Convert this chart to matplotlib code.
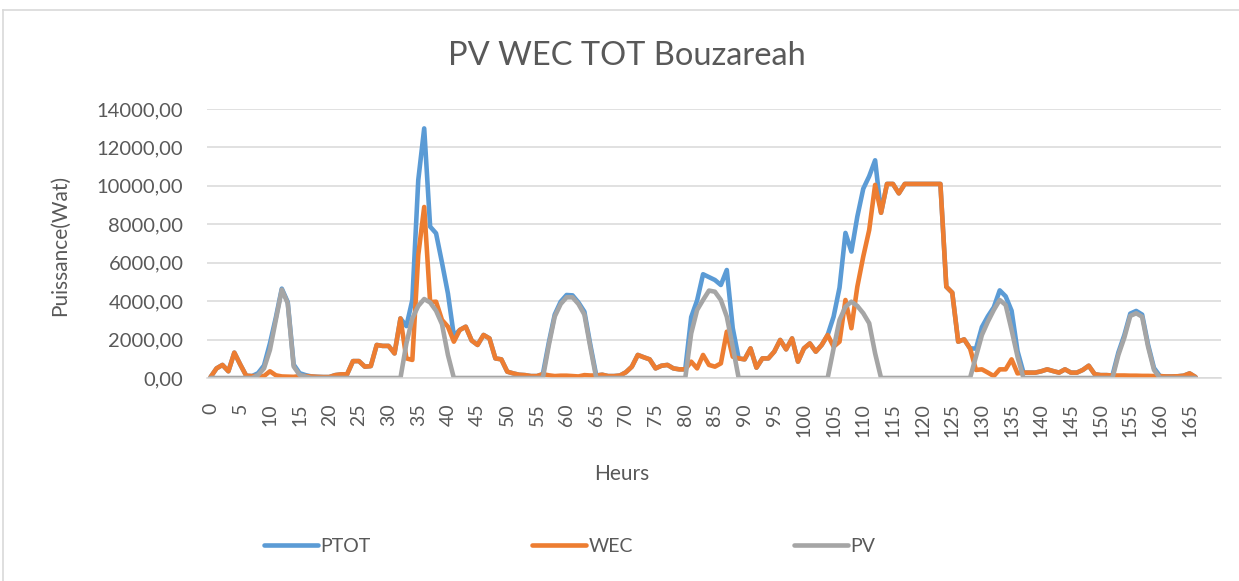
import numpy as np
import matplotlib
matplotlib.use("Agg")
import matplotlib.pyplot as plt
from matplotlib.lines import Line2D

plt.rcParams['font.family'] = ['Lato', 'DejaVu Sans']

# values (hourly, Watt)
wec = [50, 500, 680, 350, 1320, 700, 120, 100, 100, 100,
       350, 140, 80, 70, 60, 100, 100, 80, 60, 50,
       50, 150, 190, 190, 880, 880, 590, 620, 1720, 1670,
       1670, 1280, 3100, 1020, 940, 6400, 8900, 3950, 3970, 3020,
       2670, 1890, 2500, 2670, 1950, 1720, 2240, 2060, 1020, 970,
       330, 240, 170, 150, 100, 100, 200, 140, 100, 120,
       120, 100, 80, 150, 130, 130, 170, 100, 100, 130,
       300, 590, 1200, 1080, 970, 500, 640, 680, 500, 450,
       450, 850, 500, 1200, 680, 590, 760, 2410, 1110, 1020,
       970, 1540, 540, 1020, 1020, 1370, 1980, 1490, 2060, 850,
       1540, 1800, 1370, 1720, 2240, 1630, 1890, 4060, 2590, 4750,
       6320, 7700, 10050, 8600, 10100, 10100, 9610, 10100, 10100, 10100,
       10100, 10100, 10100, 10100, 4750, 4440, 1890, 2010, 1540, 420,
       450, 280, 100, 450, 450, 970, 240, 280, 280, 280,
       350, 450, 360, 280, 450, 280, 280, 420, 640, 200,
       150, 150, 130, 130, 130, 120, 120, 110, 110, 100,
       100, 80, 80, 90, 120, 240, 50]

pv = [0, 0, 0, 0, 0, 0, 0, 0, 150, 500,
      1460, 3020, 4600, 3890, 600, 160, 70, 0, 0, 0,
      0, 0, 0, 0, 0, 0, 0, 0, 0, 0,
      0, 0, 0, 1800, 3100, 3750, 4110, 3930, 3500, 2800,
      1200, 0, 0, 0, 0, 0, 0, 0, 0, 0,
      0, 0, 0, 0, 0, 0, 0, 1700, 3200, 3850,
      4200, 4200, 3850, 3300, 1600, 0, 0, 0, 0, 0,
      0, 0, 0, 0, 0, 0, 0, 0, 0, 0,
      0, 2320, 3540, 4060, 4550, 4490, 4060, 3190, 1630, 0,
      0, 0, 0, 0, 0, 0, 0, 0, 0, 0,
      0, 0, 0, 0, 0, 1540, 3020, 3710, 3970, 3750,
      3370, 2850, 1280, 0, 0, 0, 0, 0, 0, 0,
      0, 0, 0, 0, 0, 0, 0, 0, 0, 1110,
      2240, 2930, 3540, 4060, 3800, 2500, 1110, 0, 0, 0,
      0, 0, 0, 0, 0, 0, 0, 0, 0, 0,
      0, 0, 0, 1200, 2100, 3230, 3370, 3190, 1630, 420,
      0, 0, 0, 0, 0, 0, 0]

ptot = [50, 500, 680, 350, 1320, 700, 120, 100, 250, 650,
        1800, 3150, 4650, 3950, 700, 250, 150, 80, 60, 50,
        50, 150, 190, 190, 880, 880, 590, 620, 1720, 1670,
        1670, 1280, 3100, 2700, 4060, 10300, 12990, 7880, 7530, 6000,
        4400, 2200, 2500, 2670, 1950, 1720, 2240, 2060, 1020, 970,
        330, 240, 170, 150, 100, 100, 200, 1840, 3300, 3970,
        4320, 4300, 3930, 3450, 1730, 130, 170, 100, 100, 130,
        300, 590, 1200, 1080, 970, 500, 640, 680, 500, 450,
        450, 3170, 4040, 5400, 5250, 5100, 4840, 5620, 2600, 1020,
        970, 1540, 540, 1020, 1020, 1370, 1980, 1490, 2060, 850,
        1540, 1800, 1370, 1720, 2240, 3190, 4700, 7550, 6580, 8400,
        9850, 10500, 11330, 8600, 10100, 10100, 9610, 10100, 10100, 10100,
        10100, 10100, 10100, 10100, 4750, 4440, 1890, 2010, 1540, 1530,
        2650, 3210, 3680, 4560, 4250, 3500, 1400, 280, 280, 280,
        350, 450, 360, 280, 450, 280, 280, 420, 640, 200,
        150, 150, 130, 1330, 2230, 3350, 3490, 3300, 1740, 520,
        100, 80, 80, 90, 120, 240, 50]

hours = np.arange(len(wec))
xticks = list(range(0, 166, 5))
yticks = [0, 2000, 4000, 6000, 8000, 10000, 12000, 14000]

txt = '#595959'
grid = '#D9D9D9'
c_tot, c_wec, c_pv = '#5B9BD5', '#ED7D31', '#A5A5A5'

fig = plt.figure(figsize=(12.39, 5.81), dpi=100)
ax = fig.add_axes([0.1671, 0.3494, 0.8184, 0.463])

lw = 3.3
kw = dict(lw=lw, solid_joinstyle='round', solid_capstyle='round')
l1, = ax.plot(hours, ptot, color=c_tot, label='PTOT', **kw)
l2, = ax.plot(hours, wec, color=c_wec, label='WEC', **kw)
l3, = ax.plot(hours, pv, color=c_pv, label='PV', **kw)

ax.set_xlim(-0.6, 170.3)
ax.set_ylim(0, 14000)
ax.set_yticks(yticks)
ax.set_yticklabels([f"{v},00" for v in yticks])
ax.set_xticks(xticks)
ax.set_xticklabels([str(v) for v in xticks], rotation=90, va='top', ha='center')
ax.tick_params(axis='y', length=0, pad=17, labelsize=14.5, labelcolor=txt)
ax.tick_params(axis='x', length=0, pad=18, labelsize=14, labelcolor=txt)
ax.grid(axis='y', color=grid, lw=1.1)
ax.set_axisbelow(True)
for s in ['top', 'right', 'left']:
    ax.spines[s].set_visible(False)
ax.spines['bottom'].set_color(grid)
ax.spines['bottom'].set_linewidth(1.1)

fig.text(0.5057, 0.903, 'PV WEC TOT Bouzareah', ha='center', va='center',
         fontsize=23.5, color=txt)
fig.text(0.0484, 0.578, 'Puissance(Wat)', rotation=90, ha='center', va='center',
         fontsize=15, color=txt)
fig.text(0.502, 0.184, 'Heurs', ha='center', va='center', fontsize=15, color=txt)

leg = fig.legend(handles=[l1, l2, l3], loc='center', bbox_to_anchor=(0.46, 0.06),
                 ncol=3, frameon=False, fontsize=14, handlelength=2.75,
                 handletextpad=0.15, columnspacing=8.3)
for t in leg.get_texts():
    t.set_color(txt)

# chart area border
fig.add_artist(Line2D([0.0024, 1.0], [0.9828, 0.9828], transform=fig.transFigure,
                      color=grid, lw=1.2))
fig.add_artist(Line2D([0.0024, 0.0024], [0.0, 0.9828], transform=fig.transFigure,
                      color=grid, lw=1.2))

fig.savefig('out.png', dpi=100)
